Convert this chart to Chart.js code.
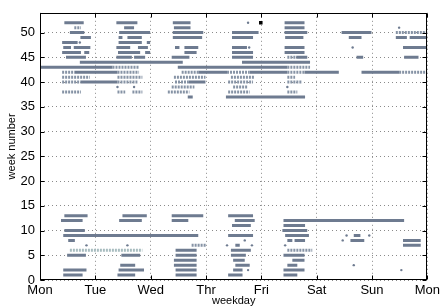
<!DOCTYPE html>
<html>
<head>
<meta charset="utf-8">
<script src="https://cdn.jsdelivr.net/npm/chart.js@4/dist/chart.umd.min.js"></script>
<style>
  html, body { margin: 0; padding: 0; background: #fff; }
  #wrap { width: 443px; height: 308px; }
</style>
</head>
<body>
<div id="wrap"><canvas id="myChart" width="443" height="308"></canvas></div>
<script>
var dayLabels = ['Mon', 'Tue', 'Wed', 'Thr', 'Fri', 'Sat', 'Sun', 'Mon'];
var weekTicks = [0, 5, 10, 15, 20, 25, 30, 35, 40, 45, 50];

// [week, start day, end day]  (day 0 = Monday)
var solidRuns = [
  [52, 0.44, 0.79], [52, 1.38, 1.76], [52, 2.40, 2.72], [52, 4.42, 4.78],
  [51, 1.52, 1.70], [51, 2.42, 2.72], [51, 4.42, 4.78],
  [50, 0.54, 0.80], [50, 1.43, 1.99], [50, 2.40, 2.95], [50, 3.47, 3.95], [50, 4.42, 4.83], [50, 5.45, 5.99],
  [49, 0.73, 0.92], [49, 1.42, 1.49], [49, 1.58, 1.84], [49, 2.40, 2.93], [49, 3.47, 3.85], [49, 4.43, 4.76],
  [49, 5.58, 5.81], [49, 6.43, 6.63], [49, 6.68, 7.00],
  [48, 0.40, 0.68], [48, 1.42, 1.84], [48, 1.93, 1.99],
  [47, 0.42, 0.56], [47, 0.61, 0.91], [47, 1.38, 1.63], [47, 1.77, 1.95], [47, 2.44, 2.52], [47, 2.61, 2.86],
  [47, 3.47, 3.74], [47, 4.42, 4.78], [47, 6.56, 7.00],
  [46, 0.40, 0.74], [46, 0.80, 0.89], [46, 1.41, 1.81], [46, 1.90, 1.99], [46, 2.61, 2.83], [46, 3.47, 3.85], [46, 4.42, 4.78],
  [45, 0.47, 0.83], [45, 1.38, 1.66], [45, 1.70, 1.90], [45, 2.38, 2.70], [45, 3.47, 3.85], [45, 4.63, 4.83],
  [45, 5.72, 5.84], [45, 6.58, 6.84],
  [44, 0.72, 2.58], [44, 3.65, 4.88],
  [43, 0.00, 1.31], [43, 2.49, 4.47],
  [42, 0.63, 1.40], [42, 2.86, 3.38], [42, 3.79, 4.47], [42, 4.78, 5.40], [42, 5.81, 6.49],
  [40, 0.74, 1.40], [40, 2.69, 2.99],
  [37, 2.67, 2.76], [37, 3.36, 4.79],
  [13, 0.44, 0.86], [13, 1.49, 1.93], [13, 2.38, 2.95], [13, 3.40, 3.85],
  [12, 0.38, 0.77], [12, 1.43, 1.84], [12, 2.38, 2.68], [12, 3.52, 3.88], [12, 4.40, 6.58],
  [11, 3.47, 3.81], [11, 4.40, 4.79],
  [10, 0.44, 0.81], [10, 4.38, 4.83],
  [9, 0.42, 2.86], [9, 3.40, 3.85], [9, 4.43, 4.86], [9, 5.67, 5.79],
  [8, 0.51, 0.63], [8, 4.47, 4.56], [8, 4.60, 4.79], [8, 5.61, 5.86], [8, 6.56, 6.88],
  [7, 3.53, 3.61], [7, 6.56, 6.88],
  [6, 2.45, 2.83], [6, 3.45, 3.81],
  [5, 0.49, 0.83], [5, 1.47, 1.81], [5, 2.45, 2.83], [5, 3.45, 3.72], [5, 4.40, 4.78],
  [4, 2.42, 2.83], [4, 3.49, 3.70], [4, 4.56, 4.78],
  [3, 1.45, 1.72], [3, 2.42, 2.83], [3, 3.53, 3.79], [3, 4.47, 4.65],
  [2, 0.42, 0.84], [2, 1.42, 1.88], [2, 2.45, 2.83], [2, 3.49, 3.66], [2, 4.40, 4.78],
  [1, 0.42, 0.77], [1, 1.40, 1.72], [1, 2.45, 2.83], [1, 3.40, 3.66], [1, 4.40, 4.65]
];

// runs made of loose, separate samples
var sparseRuns = [
  [51, 0.62, 0.74], [50, 6.43, 7.00], [45, 4.47, 4.63],
  [43, 1.31, 1.79], [43, 4.47, 4.88],
  [42, 0.40, 0.63], [42, 1.40, 1.79], [42, 2.56, 2.86], [42, 3.38, 3.79], [42, 4.47, 4.78], [42, 6.49, 7.00],
  [41, 0.40, 0.90], [41, 1.40, 1.85], [41, 2.42, 2.99], [41, 3.45, 3.88], [41, 4.47, 4.61],
  [40, 0.40, 0.74], [40, 1.40, 1.76], [40, 2.44, 2.69], [40, 3.40, 3.85], [40, 4.47, 4.74],
  [39, 2.38, 2.79], [39, 3.49, 3.76],
  [38, 0.40, 0.74], [38, 1.40, 1.54], [38, 1.67, 1.85], [38, 2.31, 2.70], [38, 3.40, 3.79], [38, 4.47, 4.65],
  [7, 2.74, 3.01], [6, 4.47, 4.92]
];

var faintRuns = [[6, 0.54, 1.85]];

// [week, day]
var singleDots = [
  [48, 0.72], [47, 3.78], [47, 5.65], [39, 1.40], [39, 1.70], [39, 4.47],
  [9, 5.54], [9, 5.95], [8, 3.70], [8, 5.47],
  [7, 0.84], [7, 1.58], [7, 3.38], [7, 3.83], [7, 4.43],
  [3, 5.67], [2, 3.76], [2, 6.53], [51, 6.49], [52, 3.76]
];
var markedDots = [[52, 3.99]];

function toLine(runs) {
  var pts = [];
  runs.forEach(function(r) {
    pts.push({x: r[1], y: r[0]});
    pts.push({x: r[2], y: r[0]});
    pts.push({x: r[2], y: null});
  });
  return pts;
}
function toPoints(list) {
  return list.map(function(d) { return {x: d[1], y: d[0]}; });
}

var fontFam = '"Liberation Sans", Helvetica, Arial, sans-serif';

var frame = {
  id: 'frame',
  afterDraw: function(chart) {
    var ctx = chart.ctx, a = chart.chartArea, xs = chart.scales.x, ys = chart.scales.y;
    var L = Math.round(a.left) + 0.5, R = Math.round(a.right) - 0.5;
    var T = Math.round(a.top) + 0.5, B = Math.round(a.bottom) - 0.5;
    ctx.save();
    ctx.strokeStyle = '#000';
    ctx.lineWidth = 1;
    ctx.strokeRect(L, T, R - L, B - T);
    ctx.beginPath();
    xs.ticks.forEach(function(t) {
      var px = Math.round(xs.getPixelForValue(t.value)) + 0.5;
      ctx.moveTo(px, B); ctx.lineTo(px, B - 4);
      ctx.moveTo(px, T); ctx.lineTo(px, T + 4);
    });
    ys.ticks.forEach(function(t) {
      var py = Math.round(ys.getPixelForValue(t.value)) + 0.5;
      ctx.moveTo(L, py); ctx.lineTo(L + 4, py);
      ctx.moveTo(R, py); ctx.lineTo(R - 4, py);
    });
    ctx.stroke();
    ctx.restore();
  }
};

var ctx = document.getElementById('myChart').getContext('2d');
var chart = new Chart(ctx, {
  type: 'line',
  data: {
    datasets: [
      {
        data: toLine(faintRuns),
        borderColor: '#a7bcbf',
        borderWidth: 3,
        borderDash: [2, 1],
        pointRadius: 0
      },
      {
        data: toLine(sparseRuns),
        borderColor: '#8693a5',
        borderWidth: 3,
        borderDash: [2, 1],
        pointRadius: 0
      },
      {
        data: toLine(solidRuns),
        borderColor: '#6e7b90',
        borderWidth: 3,
        pointRadius: 0
      },
      {
        data: toPoints(singleDots),
        showLine: false,
        pointRadius: 1.2,
        pointBackgroundColor: '#6e7b90',
        pointBorderWidth: 0
      },
      {
        data: toPoints(markedDots),
        showLine: false,
        pointStyle: 'rect',
        pointRadius: 2.5,
        pointBackgroundColor: '#000',
        pointBorderWidth: 0
      }
    ]
  },
  options: {
    responsive: false,
    animation: false,
    spanGaps: false,
    layout: {padding: {top: 6, right: 11, left: 0, bottom: 0}},
    plugins: {legend: {display: false}, tooltip: {enabled: false}},
    elements: {line: {tension: 0, borderCapStyle: 'butt'}},
    scales: {
      x: {
        type: 'linear',
        min: 0,
        max: 7,
        afterFit: function(s) { s.height = 28; },
        afterBuildTicks: function(s) { s.ticks = dayLabels.map(function(d, i) { return {value: i}; }); },
        ticks: {
          autoSkip: false,
          maxRotation: 0,
          padding: 3,
          color: '#000',
          font: {family: fontFam, size: 13},
          callback: function(v) { return dayLabels[v]; }
        },
        grid: {color: '#8a8a8a', lineWidth: 1, drawTicks: false},
        border: {display: false, dash: [1, 3]},
        title: {display: true, text: 'weekday', color: '#000', padding: 0, font: {family: fontFam, size: 11}}
      },
      y: {
        type: 'linear',
        min: 0,
        max: 54,
        afterFit: function(s) { s.width = 40; },
        afterBuildTicks: function(s) { s.ticks = weekTicks.map(function(v) { return {value: v}; }); },
        ticks: {
          padding: 5,
          color: '#000',
          font: {family: fontFam, size: 13}
        },
        grid: {color: '#8a8a8a', lineWidth: 1, drawTicks: false},
        border: {display: false, dash: [1, 3]},
        title: {display: true, text: 'week number', color: '#000', padding: {top: 5, bottom: 0}, font: {family: fontFam, size: 11}}
      }
    }
  },
  plugins: [frame]
});
</script>
</body>
</html>
